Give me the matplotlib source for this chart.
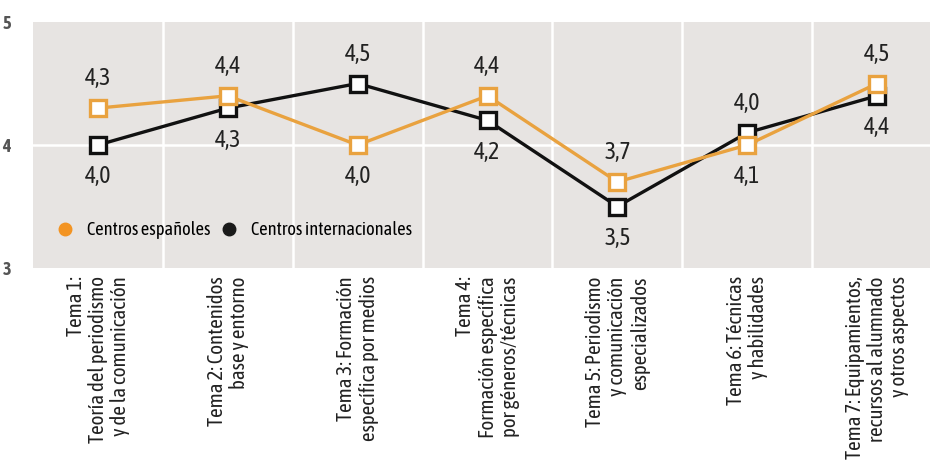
import matplotlib.pyplot as plt
from matplotlib.lines import Line2D

# datos
temas = [
    "Tema 1:\nTeoría del periodismo\ny de la comunicación",
    "Tema 2: Contenidos\nbase y entorno",
    "Tema 3: Formación\nespecífica por medios",
    "Tema 4:\nFormación específica\npor géneros/técnicas",
    "Tema 5: Periodismo\ny comunicación\nespecializados",
    "Tema 6: Técnicas\ny habilidades",
    "Tema 7: Equipamientos,\nrecursos al alumnado\ny otros aspectos",
]
espanoles = [4.3, 4.4, 4.0, 4.4, 3.7, 4.0, 4.5]
internacionales = [4.0, 4.3, 4.5, 4.2, 3.5, 4.1, 4.4]
etiquetas_arriba = ["4,3", "4,4", "4,5", "4,4", "3,7", "4,0", "4,5"]
etiquetas_abajo = ["4,0", "4,3", "4,0", "4,2", "3,5", "4,1", "4,4"]
y_ticks = [3, 4, 5]

plt.rcParams['font.family'] = ['Asap Condensed', 'DejaVu Sans']

NARANJA = '#E9A23F'
NEGRO = '#111111'
FONDO = '#E7E4E2'

fig = plt.figure(figsize=(9.3, 4.63), dpi=100)
W, H = 930, 463
# el área del gráfico se sale por la derecha, como en el original
ax = fig.add_axes([33 / W, (H - 268) / H, 909 / W, 246 / H])
ax.set_facecolor(FONDO)

x = list(range(len(temas)))
ax.set_xlim(-0.5, len(temas) - 0.5)
ax.set_ylim(3, 5)

# separadores blancos
for i in range(1, len(temas)):
    ax.axvline(i - 0.5, color='white', linewidth=1.8, zorder=1)
ax.axhline(4, color='white', linewidth=1.8, zorder=1)

ax.plot(x, internacionales, color=NEGRO, linewidth=2.4, marker='s', markersize=11,
        markerfacecolor='white', markeredgecolor=NEGRO, markeredgewidth=2.4, zorder=3)
ax.plot(x, espanoles, color=NARANJA, linewidth=2.4, marker='s', markersize=11,
        markerfacecolor='white', markeredgecolor=NARANJA, markeredgewidth=2.4, zorder=4)

for i in x:
    alto = max(espanoles[i], internacionales[i])
    bajo = min(espanoles[i], internacionales[i])
    ax.annotate(etiquetas_arriba[i], (i, alto), xytext=(0, 21), textcoords='offset points',
                ha='center', va='center', fontsize=17, color='#222222')
    ax.annotate(etiquetas_abajo[i], (i, bajo), xytext=(0, -23), textcoords='offset points',
                ha='center', va='center', fontsize=17, color='#222222')

for s in ax.spines.values():
    s.set_visible(False)

ax.set_yticks(y_ticks)
ax.set_yticklabels([str(v) for v in y_ticks], fontsize=13, fontweight='bold', color='#555555')
ax.tick_params(axis='y', length=0, pad=16)

ax.set_xticks(x)
ax.set_xticklabels(temas, rotation=90, ha='center', va='top', multialignment='right',
                   fontsize=15, color='#222222', linespacing=1.15)
ax.tick_params(axis='x', length=0, pad=6)

handles = [
    Line2D([], [], linestyle='none', marker='o', markersize=9, color='#F39423'),
    Line2D([], [], linestyle='none', marker='o', markersize=9, color='#1A1A1A'),
]
ax.legend(handles, ['Centros españoles', 'Centros internacionales'], ncol=2, frameon=False,
          loc='center left', bbox_to_anchor=(0.0105, 0.153), fontsize=13.2,
          handlelength=1.0, handletextpad=0.7, columnspacing=0.55, borderaxespad=0.3)

fig.savefig('out.png', dpi=100)
